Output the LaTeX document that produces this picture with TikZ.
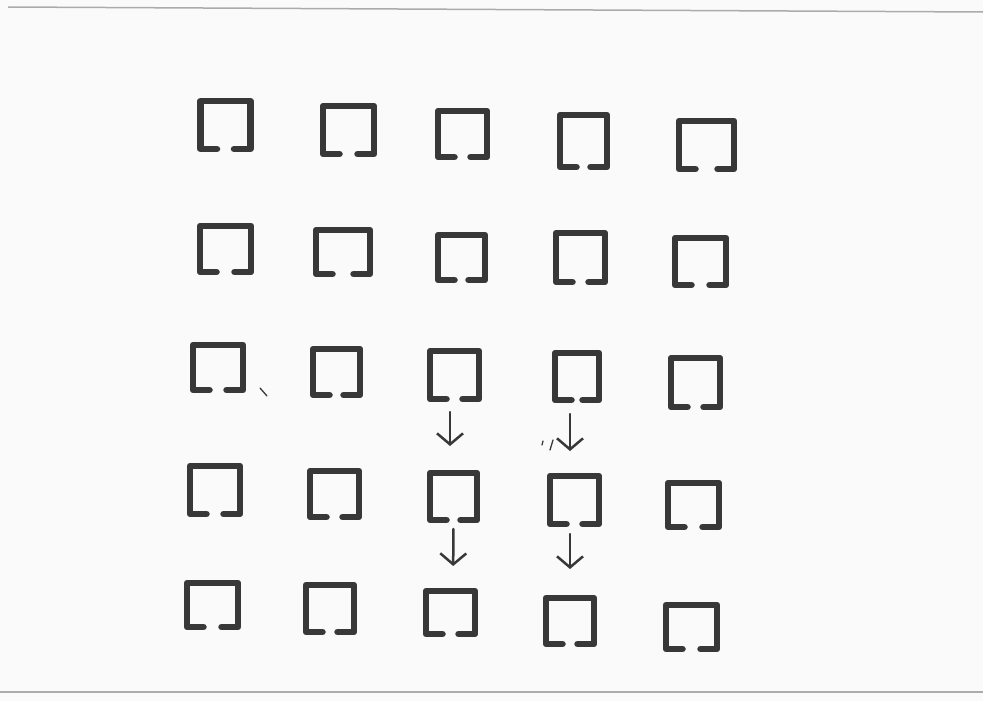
\documentclass[tikz,border=0pt]{standalone}
\usetikzlibrary{arrows.meta}
\definecolor{ink}{HTML}{383838}
\definecolor{paper}{HTML}{FAFAFA}
\definecolor{edge}{HTML}{ABABAB}
\tikzset{
 cell/.style={inner sep=0pt, outer sep=0pt, draw=none},
 glyph/.style={draw=ink, line width=6.5pt, line join=round, line cap=round},
 flow/.style={draw=ink, line width=2.5pt, line cap=round, -{Straight Barb[length=11pt,width=26pt,line width=2.5pt]}},
 stray/.style={draw=ink, line width=1.3pt, line cap=round},
 rim/.style={draw=edge, line width=1.5pt}
}
\begin{document}
\begin{tikzpicture}[x=1pt,y=-1pt]
\fill[paper] (0,0) rectangle (983,701);
\useasboundingbox (0,0) rectangle (983,701);
% paper edges
\coordinate (tl) at (8,7); \coordinate (tr) at (983,12);
\coordinate (bl) at (0,692); \coordinate (br) at (983,692);
\draw[rim] (tl) -- (tr);
\draw[rim] (bl) -- (br);
% row 1
\node[cell, minimum width=50pt, minimum height=48pt] (a11) at (225.5,125) {};
\node[cell, minimum width=51pt, minimum height=48pt] (a12) at (348.5,130) {};
\node[cell, minimum width=49pt, minimum height=46pt] (a13) at (462.5,134) {};
\node[cell, minimum width=47pt, minimum height=52pt] (a14) at (583.5,141) {};
\node[cell, minimum width=55pt, minimum height=48pt] (a15) at (706.5,145) {};
% row 2
\node[cell, minimum width=51pt, minimum height=46pt] (a21) at (225.5,249) {};
\node[cell, minimum width=54pt, minimum height=44pt] (a22) at (343,252) {};
\node[cell, minimum width=47pt, minimum height=45pt] (a23) at (461.5,257.5) {};
\node[cell, minimum width=49pt, minimum height=49pt] (a24) at (580.5,257.5) {};
\node[cell, minimum width=51pt, minimum height=47pt] (a25) at (700.5,261.5) {};
% row 3
\node[cell, minimum width=50pt, minimum height=45pt] (a31) at (218,367.5) {};
\node[cell, minimum width=47pt, minimum height=46pt] (a32) at (336.5,372) {};
\node[cell, minimum width=49pt, minimum height=48pt] (a33) at (454.5,375) {};
\node[cell, minimum width=44pt, minimum height=47pt] (a34) at (577,376.5) {};
\node[cell, minimum width=49pt, minimum height=49pt] (a35) at (695.5,382.5) {};
% row 4
\node[cell, minimum width=50pt, minimum height=48pt] (a41) at (215,490) {};
\node[cell, minimum width=49pt, minimum height=46pt] (a42) at (334.5,494) {};
\node[cell, minimum width=47pt, minimum height=47pt] (a43) at (453.5,496.5) {};
\node[cell, minimum width=49pt, minimum height=48pt] (a44) at (574.5,500) {};
\node[cell, minimum width=51pt, minimum height=44pt] (a45) at (693.5,505) {};
% row 5
\node[cell, minimum width=51pt, minimum height=44pt] (a51) at (212.5,605) {};
\node[cell, minimum width=48pt, minimum height=47pt] (a52) at (330,608.5) {};
\node[cell, minimum width=49pt, minimum height=43pt] (a53) at (450.5,612.5) {};
\node[cell, minimum width=48pt, minimum height=46pt] (a54) at (570,621) {};
\node[cell, minimum width=51pt, minimum height=44pt] (a55) at (691.5,627) {};
% open-bottom squares
\foreach \n in {a11,a12,a13,a14,a15,a21,a22,a23,a24,a25,a31,a32,a33,a34,a35,a41,a42,a43,a44,a45,a51,a52,a53,a54,a55}{
  \draw[glyph] ([xshift=16.5pt]\n.south west) -- (\n.south west) -- (\n.north west) -- (\n.north east) -- (\n.south east) -- ([xshift=-16.5pt]\n.south east);
}
% arrows
\draw[flow, shorten <=13pt, shorten >=27pt] ([xshift=-4.5pt]a33.south) -- ([xshift=-3.5pt]a43.north);
\draw[flow, shorten <=14pt, shorten >=25pt] ([xshift=-7pt]a34.south) -- ([xshift=-4.5pt]a44.north);
\draw[flow, shorten <=9pt, shorten >=25pt] (a43.south) -- ([xshift=2.5pt]a53.north);
\draw[flow, shorten <=10pt, shorten >=29pt] ([xshift=-4.5pt]a44.south) -- (a54.north);
% stray pen marks
\coordinate (s1a) at (260,388); \coordinate (s1b) at (267,396);
\draw[stray] (s1a) -- (s1b);
\coordinate (s2a) at (543,441); \coordinate (s2b) at (542,445);
\draw[stray] (s2a) -- (s2b);
\coordinate (s3a) at (553,440); \coordinate (s3b) at (550,450);
\draw[stray] (s3a) -- (s3b);
\end{tikzpicture}
\end{document}
